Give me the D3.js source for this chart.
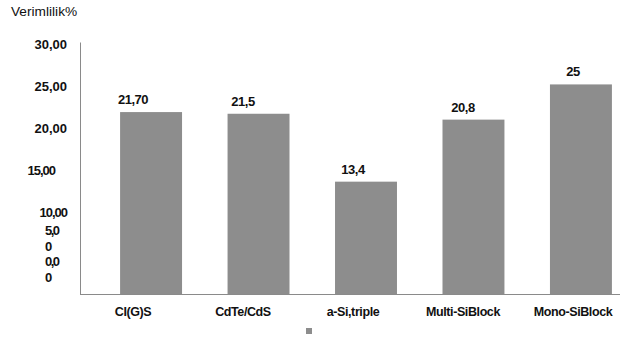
<!DOCTYPE html>
<html>
<head>
<meta charset="utf-8">
<script src="https://cdn.jsdelivr.net/npm/d3@7"></script>
<style>
  html, body { margin: 0; padding: 0; background: #fff; }
  svg { display: block; }
  text { font-family: "Liberation Sans", Arial, sans-serif; fill: #111; }
</style>
</head>
<body>
<svg id="chart" width="622" height="339"></svg>
<script>
// Efficiency (%) by solar cell technology
const categories = ["CI(G)S", "CdTe/CdS", "a-Si,triple", "Multi-SiBlock", "Mono-SiBlock"];
const values = [21.7, 21.5, 13.4, 20.8, 25];
const valueLabels = ["21,70", "21,5", "13,4", "20,8", "25"];
const tickValues = [0, 5, 10, 15, 20, 25, 30];
const tickLabels = ["0,00", "5,00", "10,00", "15,00", "20,00", "25,00", "30,00"];
const yTitle = "Verimlilik%";

const svg = d3.select("#chart");
const barColor = "#8d8d8d";
const axisColor = "#8a8a8a";

const y = d3.scaleLinear().domain([0, 30]).range([294, 42.5]);
const x = d3.scaleBand().domain(categories).range([80, 652])
  .paddingInner(0.4235).paddingOuter(0.373);
const xLabel = d3.scalePoint().domain(categories).range([133, 573]);

// axis lines
svg.append("line")
  .attr("x1", 80.5).attr("x2", 80.5)
  .attr("y1", y(30)).attr("y2", y(0))
  .attr("stroke", axisColor).attr("stroke-width", 1);

// bars
svg.append("g").selectAll("rect")
  .data(categories)
  .join("rect")
  .attr("x", d => x(d))
  .attr("width", x.bandwidth())
  .attr("y", (d, i) => y(values[i]))
  .attr("height", (d, i) => y(0) - y(values[i]))
  .attr("fill", barColor);

svg.append("line")
  .attr("x1", 80).attr("x2", 620)
  .attr("y1", y(0) + 0.5).attr("y2", y(0) + 0.5)
  .attr("stroke", axisColor).attr("stroke-width", 1);

// y tick labels; the two smallest wrap onto two lines
const tickG = svg.append("g").attr("font-weight", "bold").attr("font-size", 13);
tickValues.forEach((v, i) => {
  const lbl = tickLabels[i];
  if (v === 0 || v === 5) {
    const lines = [lbl.slice(0, 3), lbl.slice(3)];
    const top = v === 0 ? y(v) - 28.5 : y(v) - 17.5;
    const t = tickG.append("text").attr("x", 45).attr("y", top)
      .attr("letter-spacing", -1.5);
    lines.forEach((ln, k) => {
      t.append("tspan").attr("x", 45).attr("dy", k === 0 ? 0 : 16.5).text(ln);
    });
  } else {
    tickG.append("text")
      .attr("x", v === 15 ? 55 : 67)
      .attr("y", y(v) + 6.5)
      .attr("text-anchor", "end")
      .attr("letter-spacing", v === 15 || v === 10 ? -1 : 0)
      .text(lbl);
  }
});

// value labels above bars
svg.append("g").selectAll("text")
  .data(categories)
  .join("text")
  .attr("x", d => xLabel(d))
  .attr("y", (d, i) => y(values[i]) - 8)
  .attr("text-anchor", "middle")
  .attr("font-weight", "bold")
  .attr("font-size", 13)
  .attr("letter-spacing", -0.5)
  .text((d, i) => valueLabels[i]);

// category labels
svg.append("g").selectAll("text")
  .data(categories)
  .join("text")
  .attr("x", d => xLabel(d))
  .attr("y", 316)
  .attr("text-anchor", "middle")
  .attr("font-weight", "bold")
  .attr("font-size", 12.5)
  .attr("letter-spacing", -0.4)
  .text(d => d);

// legend swatch
svg.append("rect")
  .attr("x", 306).attr("y", 328)
  .attr("width", 6).attr("height", 6)
  .attr("fill", barColor);

// axis title
svg.append("text")
  .attr("x", 11).attr("y", 16)
  .attr("font-size", 13.7)
  .text(yTitle);
</script>
</body>
</html>
